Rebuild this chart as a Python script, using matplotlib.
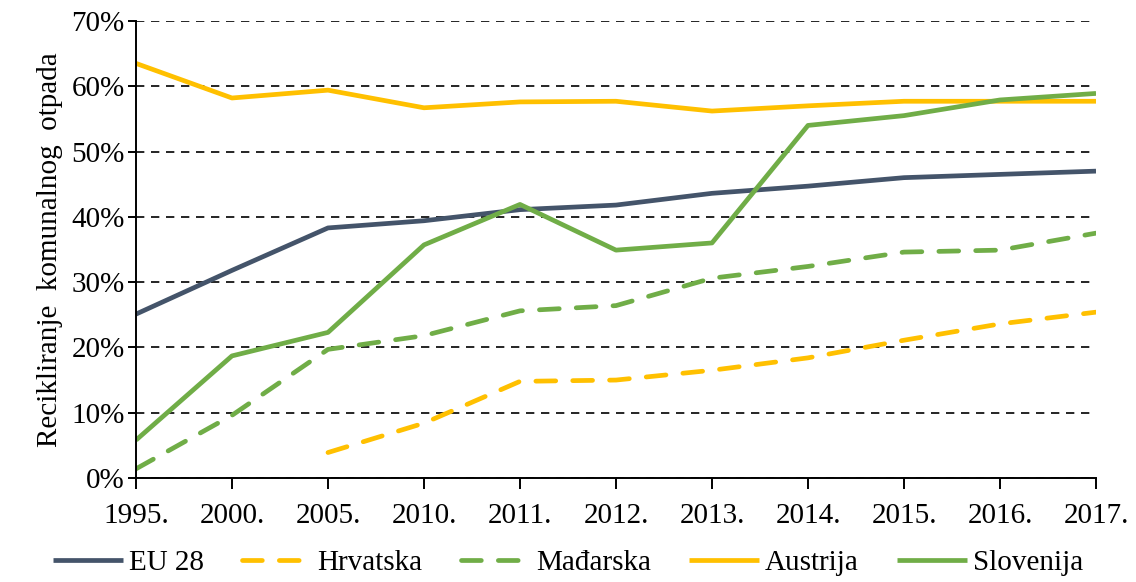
import matplotlib
matplotlib.use("Agg")
import matplotlib.pyplot as plt

plt.rcParams['font.family'] = ['Liberation Serif', 'DejaVu Serif']

years = ["1995.", "2000.", "2005.", "2010.", "2011.", "2012.", "2013.", "2014.", "2015.", "2016.", "2017."]
eu28 = [25.1, 31.8, 38.3, 39.4, 41.1, 41.8, 43.6, 44.7, 46.0, 46.5, 47.0]
hrvatska = [None, None, 3.9, 8.4, 14.8, 15.0, 16.5, 18.4, 21.1, 23.6, 25.4]
madarska = [1.4, 9.6, 19.7, 21.8, 25.6, 26.4, 30.6, 32.4, 34.6, 34.9, 37.5]
austrija = [63.5, 58.2, 59.4, 56.7, 57.6, 57.7, 56.2, 57.0, 57.7, 57.7, 57.7]
slovenija = [5.8, 18.7, 22.3, 35.7, 41.9, 34.9, 36.0, 54.0, 55.5, 57.9, 58.9]

C_EU = '#44546A'
C_Y = '#FFC000'
C_G = '#70AD47'

fig = plt.figure(figsize=(11.36, 5.82), dpi=100)
ax = fig.add_axes([0.1197, 0.1787, 0.8451, 0.7853])

x = list(range(len(years)))

def series(vals):
    xs = [i for i, v in zip(x, vals) if v is not None]
    ys = [v for v in vals if v is not None]
    return xs, ys

lw = 3.4
dash = (4.2, 3.6)
ax.plot(*series(eu28), color=C_EU, lw=lw, label='EU 28', solid_capstyle='butt')
ax.plot(*series(hrvatska), color=C_Y, lw=lw, label='Hrvatska', dashes=dash, dash_capstyle='round')
ax.plot(*series(madarska), color=C_G, lw=lw, label='Mađarska', dashes=dash, dash_capstyle='round')
ax.plot(*series(austrija), color=C_Y, lw=lw, label='Austrija', solid_capstyle='butt')
ax.plot(*series(slovenija), color=C_G, lw=lw, label='Slovenija', solid_capstyle='butt')

fs = 21
ax.set_xlim(0, len(years) - 1)
ax.set_ylim(0, 70)
ax.set_yticks(range(0, 71, 10))
ax.set_yticklabels([f"{v}%" for v in range(0, 71, 10)], fontsize=fs)
ax.set_xticks(x)
ax.set_xticklabels(years, fontsize=fs)

ax.yaxis.grid(True, color='black', linestyle=(0, (5, 4)), linewidth=1.2)
ax.set_axisbelow(True)
for s in ['top', 'right']:
    ax.spines[s].set_visible(False)
ax.spines['left'].set_linewidth(1.4)
ax.spines['bottom'].set_linewidth(1.4)
ax.tick_params(axis='x', direction='out', length=8, width=1.4, pad=10)
ax.tick_params(axis='y', direction='out', length=6, width=1.4, pad=2)

ax.set_ylabel("Recikliranje  komunalnog  otpada", fontsize=fs, labelpad=6)

handles, labels = ax.get_legend_handles_labels()
fig.legend(handles, labels, loc='lower center', bbox_to_anchor=(0.5, -0.035), ncol=5,
           frameon=False, fontsize=fs, handlelength=2.4, handletextpad=0.2,
           columnspacing=1.3)

fig.savefig('out.png', dpi=100)
